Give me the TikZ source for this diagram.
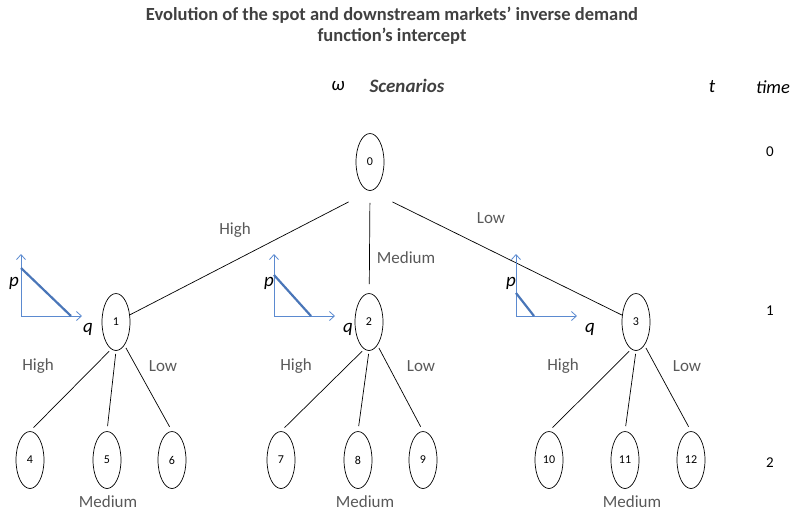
\documentclass[tikz,border=0pt]{standalone}
\usepackage{fontspec}
\setmainfont{Carlito}
\usepackage{tikz}
\usetikzlibrary{shapes.geometric,arrows.meta}
\definecolor{axisblue}{HTML}{5B8AD0}
\definecolor{demblue}{HTML}{4A76B8}
\definecolor{labgray}{HTML}{595959}
\definecolor{titlegray}{HTML}{404040}

\begin{document}
\begin{tikzpicture}[x=1pt,y=-1pt,st/.style={ellipse,draw,line width=0.7pt,minimum width=28pt,minimum height=57pt,inner sep=0pt,font=\fontsize{12}{13}\selectfont},br/.style={text=labgray,font=\fontsize{17}{19}\selectfont},ax/.style={axisblue,line width=0.8pt,-{Straight Barb[length=5pt,width=9pt]}},dem/.style={demblue,line width=2.2pt},lk/.style={line width=0.7pt,shorten <=#1},lk/.default=3pt]
\useasboundingbox (0,0) rectangle (792,515);
\node[font=\bfseries\fontsize{18.5}{21}\selectfont,text=titlegray,align=center] (title) at (392,26)
   {Evolution of the spot and downstream markets’ inverse demand\\function’s intercept};
\node[font=\itshape\fontsize{19}{20}\selectfont] (om) at (338,86) {ω};
\node[font=\bfseries\itshape\fontsize{19}{20}\selectfont,text=titlegray] (scen) at (407,86) {Scenarios};
\node[font=\itshape\fontsize{19}{20}\selectfont] (tt) at (712,87) {t};
\node[font=\itshape\fontsize{18.5}{20}\selectfont] (tm) at (773,87) {time};
\foreach \t/\y in {0/152,1/311,2/463} {
   \node[font=\fontsize{15}{16}\selectfont] (t\t) at (770,\y) {\t};
}
\node[st] (n0) at (370,162) {0};
\node[st] (n1) at (116,322) {1};
\node[st] (n2) at (369,322) {2};
\node[st] (n3) at (636,322) {3};
\foreach \n/\x in %
{4/30,5/107,6/172,7/281,8/358,9/423,10/549,11/625,12/691} {
   \node[st] (n\n) at (\x,460) {\n};
}
\draw[lk=24pt] (n0.south) -- (n1);
\draw[lk=12pt,shorten >=9pt] (n0.south) -- (n2);
\draw[lk=25pt] (n0.south) -- (n3);
\foreach \p/\l/\m/\r in %
{1/4/5/6,2/7/8/9,3/10/11/12} {
   \draw[lk,shorten >=5pt] (n\p.-100) -- (n\l.north);
   \draw[lk,shorten >=5pt] (n\p.south) -- (n\m.north);
   \draw[lk,shorten >=5pt] (n\p.-70) -- (n\r.north);
}
\node[br] (hi0) at (235,230) {High};
\node[br] (me0) at (406,258) {Medium};
\node[br] (lo0) at (491,218) {Low};
\foreach \k/\h/\l/\m in %
{1/38/163/108,2/296/421/365,3/563/687/632} {
   \node[br] (hi\k) at (\h,366) {High};
   \node[br] (lo\k) at (\l,366) {Low};
   \node[br] (me\k) at (\m,502) {Medium};
}
\foreach \k/\x/\s/\e/\px/\qx in %
{1/21/268/71/14/88,2/274/275/311/269/348,3/516/293/534/511/590} {
   \draw[ax] (\x,316) -- (\x,254);
   \draw[ax] (\x,316) -- (\x+61,316);
   \draw[dem] (\x,\s) -- (\e,316);
   \node[font=\itshape\fontsize{19}{20}\selectfont] (p\k) at (\px,283) {p};
   \node[font=\itshape\fontsize{19}{20}\selectfont] (q\k) at (\qx,329) {q};
}
\end{tikzpicture}
\end{document}
